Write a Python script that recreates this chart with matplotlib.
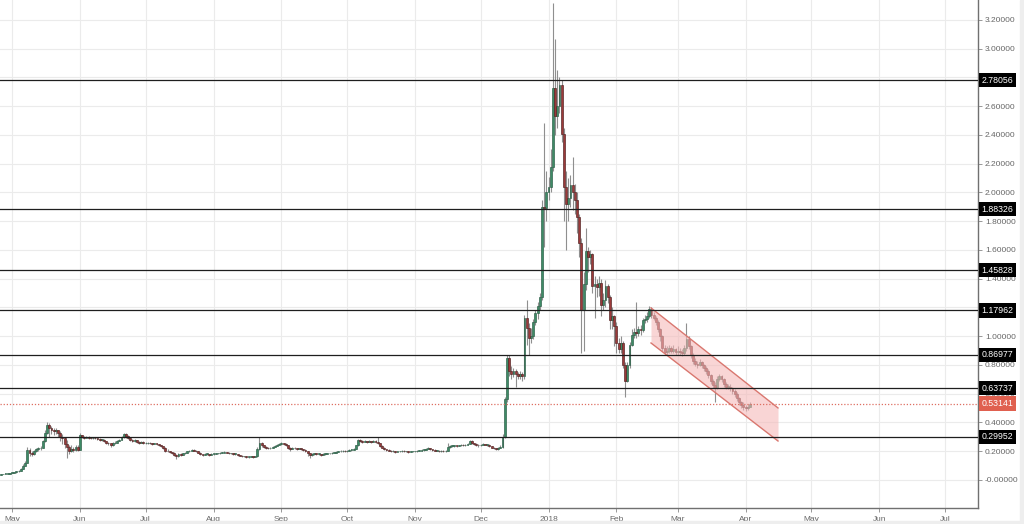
import numpy as np
import pandas as pd
import matplotlib
matplotlib.use('Agg')
import matplotlib.pyplot as plt
import matplotlib.dates as mdates
from matplotlib.transforms import blended_transform_factory
from matplotlib.patches import Rectangle

plt.rcParams['font.family'] = ['Liberation Sans', 'DejaVu Sans']

# ---------------- data (daily candles, open = previous close) ----------------
start_date = '2017-04-26'
first_open = 0.038

closes = [
    0.040, 0.042, 0.044, 0.045, 0.048,  # Apr 26-30 2017
    0.050, 0.052, 0.060, 0.062, 0.075, 0.100, 0.120, 0.210, 0.190, 0.180, 0.200, 0.215, 0.220, 0.225, 0.270, 0.330, 0.385, 0.360, 0.350, 0.340, 0.345, 0.330, 0.300, 0.290, 0.250, 0.230, 0.205, 0.215, 0.210, 0.230, 0.210,  # May
    0.310, 0.300, 0.295, 0.300, 0.295, 0.290, 0.295, 0.290, 0.285, 0.280, 0.280, 0.270, 0.260, 0.255, 0.240, 0.255, 0.260, 0.270, 0.280, 0.300, 0.320, 0.305, 0.295, 0.280, 0.270, 0.275, 0.265, 0.260, 0.265, 0.255,  # Jun
    0.255, 0.260, 0.255, 0.250, 0.255, 0.250, 0.240, 0.235, 0.225, 0.205, 0.200, 0.195, 0.190, 0.175, 0.165, 0.180, 0.175, 0.185, 0.190, 0.200, 0.205, 0.210, 0.205, 0.200, 0.190, 0.180, 0.175, 0.180, 0.180, 0.175, 0.180,  # Jul
    0.180, 0.185, 0.185, 0.190, 0.190, 0.195, 0.190, 0.185, 0.185, 0.180, 0.180, 0.175, 0.170, 0.165, 0.165, 0.160, 0.160, 0.165, 0.160, 0.165, 0.215, 0.255, 0.240, 0.230, 0.225, 0.220, 0.225, 0.230, 0.235, 0.245, 0.250,  # Aug
    0.255, 0.250, 0.240, 0.225, 0.215, 0.225, 0.220, 0.215, 0.220, 0.215, 0.210, 0.200, 0.185, 0.175, 0.180, 0.185, 0.180, 0.180, 0.175, 0.180, 0.180, 0.185, 0.185, 0.190, 0.190, 0.195, 0.200, 0.200, 0.205, 0.200,  # Sep
    0.205, 0.210, 0.210, 0.215, 0.240, 0.275, 0.270, 0.265, 0.270, 0.265, 0.270, 0.265, 0.270, 0.265, 0.255, 0.235, 0.225, 0.215, 0.210, 0.205, 0.200, 0.200, 0.195, 0.200, 0.200, 0.205, 0.200, 0.200, 0.195, 0.200, 0.200,  # Oct
    0.200, 0.205, 0.205, 0.210, 0.210, 0.215, 0.220, 0.215, 0.210, 0.205, 0.205, 0.200, 0.205, 0.200, 0.205, 0.230, 0.235, 0.235, 0.240, 0.235, 0.240, 0.245, 0.240, 0.245, 0.250, 0.270, 0.255, 0.250, 0.245, 0.240,  # Nov
    0.245, 0.250, 0.245, 0.245, 0.235, 0.225, 0.220, 0.215, 0.225, 0.230, 0.300, 0.560, 0.850, 0.760, 0.740, 0.755, 0.735, 0.725, 0.740, 0.720, 1.130, 1.060, 0.990, 1.000, 1.100, 1.160, 1.210, 1.270, 1.900, 1.890, 2.000,  # Dec
    2.040, 2.180, 2.730, 2.530, 2.600, 2.750, 2.410, 2.040, 1.920, 1.960, 2.050, 2.000, 1.950, 1.830, 1.650, 1.180, 1.360, 1.590, 1.550, 1.570, 1.350, 1.360, 1.340, 1.370, 1.220, 1.250, 1.350, 1.270, 1.110, 1.140, 1.070,  # Jan 2018
    0.950, 0.910, 0.950, 0.800, 0.690, 0.800, 0.940, 1.010, 1.030, 1.020, 1.050, 1.040, 1.110, 1.120, 1.140, 1.190, 1.150, 1.130, 1.100, 1.050, 1.000, 0.920, 0.890, 0.900, 0.920, 0.900, 0.910, 0.890,  # Feb
    0.900, 0.890, 0.880, 0.920, 0.980, 0.930, 0.870, 0.830, 0.810, 0.800, 0.820, 0.800, 0.780, 0.760, 0.730, 0.690, 0.660, 0.640, 0.700, 0.720, 0.700, 0.670, 0.650, 0.650, 0.640, 0.620, 0.600, 0.570, 0.540, 0.520, 0.510,  # Mar
    0.500, 0.510, 0.531,  # Apr 1-3
]

highs = [
    0.041, 0.043, 0.046, 0.047, 0.050,
    0.052, 0.055, 0.062, 0.066, 0.080, 0.110, 0.130, 0.230, 0.220, 0.200, 0.210, 0.225, 0.230, 0.235, 0.280, 0.345, 0.400, 0.395, 0.375, 0.360, 0.365, 0.350, 0.340, 0.320, 0.300, 0.275, 0.240, 0.240, 0.230, 0.240, 0.240,
    0.330, 0.315, 0.305, 0.305, 0.305, 0.300, 0.300, 0.298, 0.292, 0.290, 0.286, 0.283, 0.273, 0.265, 0.260, 0.262, 0.268, 0.275, 0.285, 0.305, 0.330, 0.325, 0.310, 0.300, 0.285, 0.282, 0.278, 0.270, 0.270, 0.268,
    0.262, 0.265, 0.263, 0.258, 0.260, 0.258, 0.252, 0.243, 0.238, 0.228, 0.212, 0.205, 0.198, 0.192, 0.178, 0.185, 0.185, 0.190, 0.195, 0.205, 0.210, 0.215, 0.212, 0.207, 0.202, 0.192, 0.183, 0.185, 0.185, 0.183, 0.185,
    0.185, 0.190, 0.190, 0.195, 0.195, 0.200, 0.198, 0.193, 0.190, 0.188, 0.185, 0.182, 0.177, 0.172, 0.170, 0.168, 0.165, 0.170, 0.168, 0.170, 0.230, 0.300, 0.262, 0.245, 0.235, 0.230, 0.232, 0.236, 0.240, 0.252, 0.260,
    0.262, 0.260, 0.255, 0.243, 0.228, 0.230, 0.228, 0.224, 0.225, 0.223, 0.218, 0.213, 0.203, 0.190, 0.186, 0.190, 0.188, 0.185, 0.182, 0.185, 0.185, 0.190, 0.190, 0.195, 0.195, 0.200, 0.205, 0.206, 0.210, 0.208,
    0.210, 0.215, 0.215, 0.220, 0.245, 0.285, 0.282, 0.275, 0.276, 0.274, 0.276, 0.273, 0.276, 0.275, 0.300, 0.258, 0.240, 0.228, 0.218, 0.213, 0.208, 0.206, 0.202, 0.205, 0.205, 0.210, 0.207, 0.205, 0.202, 0.205, 0.205,
    0.205, 0.210, 0.210, 0.215, 0.215, 0.222, 0.228, 0.225, 0.218, 0.212, 0.210, 0.207, 0.210, 0.207, 0.210, 0.260, 0.242, 0.240, 0.245, 0.242, 0.245, 0.250, 0.248, 0.250, 0.256, 0.278, 0.275, 0.260, 0.255, 0.250,
    0.250, 0.255, 0.252, 0.250, 0.247, 0.237, 0.228, 0.222, 0.230, 0.240, 0.320, 0.580, 0.870, 0.870, 0.790, 0.780, 0.770, 0.750, 0.760, 0.750, 1.150, 1.250, 1.090, 1.060, 1.120, 1.180, 1.240, 1.300, 1.950, 2.480, 2.150,
    2.110, 2.300, 3.320, 3.070, 2.850, 2.800, 2.780, 2.450, 2.150, 2.100, 2.120, 2.250, 2.060, 2.000, 1.850, 1.680, 1.450, 1.750, 1.620, 1.600, 1.580, 1.420, 1.400, 1.420, 1.400, 1.300, 1.390, 1.360, 1.290, 1.200, 1.150,
    1.100, 0.990, 1.000, 0.970, 0.820, 0.820, 0.960, 1.050, 1.060, 1.240, 1.070, 1.080, 1.130, 1.150, 1.170, 1.210, 1.200, 1.170, 1.140, 1.110, 1.060, 1.010, 0.940, 0.930, 0.940, 0.930, 0.940, 0.920,
    0.930, 0.920, 0.910, 0.940, 1.090, 1.000, 0.940, 0.880, 0.850, 0.830, 0.840, 0.830, 0.810, 0.790, 0.770, 0.740, 0.700, 0.680, 0.720, 0.740, 0.730, 0.710, 0.680, 0.670, 0.670, 0.650, 0.630, 0.610, 0.580, 0.550, 0.540,
    0.520, 0.530, 0.545,
]

lows = [
    0.037, 0.039, 0.041, 0.042, 0.044,
    0.048, 0.049, 0.051, 0.058, 0.060, 0.074, 0.095, 0.115, 0.170, 0.165, 0.175, 0.195, 0.205, 0.210, 0.220, 0.265, 0.320, 0.300, 0.320, 0.310, 0.320, 0.300, 0.270, 0.250, 0.220, 0.150, 0.180, 0.195, 0.195, 0.200, 0.200,
    0.210, 0.292, 0.288, 0.290, 0.288, 0.284, 0.285, 0.283, 0.278, 0.273, 0.272, 0.262, 0.252, 0.245, 0.232, 0.238, 0.250, 0.258, 0.268, 0.276, 0.295, 0.295, 0.285, 0.270, 0.262, 0.265, 0.258, 0.252, 0.255, 0.248,
    0.248, 0.252, 0.250, 0.245, 0.248, 0.244, 0.236, 0.230, 0.218, 0.198, 0.193, 0.188, 0.183, 0.168, 0.145, 0.160, 0.170, 0.172, 0.182, 0.188, 0.197, 0.202, 0.200, 0.195, 0.186, 0.176, 0.170, 0.173, 0.175, 0.170, 0.172,
    0.175, 0.178, 0.180, 0.183, 0.185, 0.188, 0.186, 0.180, 0.180, 0.175, 0.175, 0.170, 0.165, 0.160, 0.160, 0.155, 0.155, 0.158, 0.155, 0.158, 0.162, 0.210, 0.232, 0.222, 0.218, 0.212, 0.216, 0.222, 0.228, 0.233, 0.240,
    0.245, 0.244, 0.234, 0.218, 0.200, 0.212, 0.214, 0.210, 0.212, 0.209, 0.204, 0.194, 0.170, 0.155, 0.170, 0.176, 0.175, 0.174, 0.170, 0.172, 0.175, 0.178, 0.180, 0.183, 0.185, 0.188, 0.192, 0.195, 0.198, 0.195,
    0.196, 0.202, 0.205, 0.208, 0.213, 0.236, 0.262, 0.258, 0.262, 0.258, 0.262, 0.258, 0.262, 0.258, 0.250, 0.230, 0.220, 0.210, 0.205, 0.200, 0.195, 0.195, 0.190, 0.193, 0.195, 0.198, 0.195, 0.195, 0.190, 0.194, 0.195,
    0.195, 0.198, 0.200, 0.203, 0.205, 0.208, 0.212, 0.210, 0.205, 0.200, 0.200, 0.195, 0.198, 0.195, 0.198, 0.203, 0.225, 0.228, 0.232, 0.230, 0.233, 0.238, 0.235, 0.238, 0.243, 0.248, 0.250, 0.243, 0.238, 0.232,
    0.238, 0.242, 0.240, 0.238, 0.230, 0.220, 0.212, 0.208, 0.210, 0.222, 0.225, 0.290, 0.540, 0.720, 0.700, 0.715, 0.650, 0.700, 0.700, 0.690, 0.700, 0.940, 0.870, 0.950, 0.980, 1.080, 1.120, 1.180, 1.250, 1.620, 1.800,
    1.950, 2.000, 2.150, 2.400, 2.450, 2.550, 2.350, 1.800, 1.600, 1.800, 1.900, 1.880, 1.850, 1.720, 1.550, 0.880, 0.900, 1.320, 1.450, 1.500, 1.300, 1.130, 1.270, 1.280, 1.140, 1.180, 1.200, 1.230, 1.050, 1.050, 0.930,
    0.880, 0.880, 0.880, 0.780, 0.580, 0.680, 0.780, 0.930, 0.990, 0.990, 1.000, 1.010, 1.030, 1.090, 1.100, 1.130, 1.130, 1.110, 1.080, 1.030, 0.970, 0.900, 0.870, 0.870, 0.880, 0.880, 0.880, 0.870,
    0.870, 0.870, 0.860, 0.870, 0.900, 0.910, 0.850, 0.810, 0.790, 0.780, 0.790, 0.780, 0.760, 0.740, 0.710, 0.670, 0.640, 0.540, 0.630, 0.690, 0.680, 0.650, 0.630, 0.630, 0.620, 0.600, 0.580, 0.550, 0.520, 0.500, 0.490,
    0.480, 0.490, 0.505,
]

level_values = [2.78056, 1.88326, 1.45828, 1.17962, 0.86977, 0.63737, 0.29952]
last_price = 0.53141

channel_dates = ['2018-02-16 19:00', '2018-04-15 19:00']
channel_upper = [1.197, 0.501]
channel_lower = [0.953, 0.271]

# 2.8 and 1.2 are fully covered by the level boxes in the reference
y_ticks = [0.0, 0.2, 0.4, 0.6, 0.8, 1.0, 1.2, 1.4, 1.6, 1.8, 2.0, 2.2, 2.4, 2.6, 2.8, 3.0, 3.2]
y_tick_labels = ['-0.00000', '0.20000', '0.40000', '0.60000', '0.80000', '1.00000', '',
                 '1.40000', '1.60000', '1.80000', '2.00000', '2.20000', '2.40000', '2.60000',
                 '', '3.00000', '3.20000']
month_ticks = ['2017-05-01', '2017-06-01', '2017-07-01', '2017-08-01', '2017-09-01', '2017-10-01',
               '2017-11-01', '2017-12-01', '2018-01-01', '2018-02-01', '2018-03-01', '2018-04-01',
               '2018-05-01', '2018-06-01', '2018-07-01']
month_labels = ['May', 'Jun', 'Jul', 'Aug', 'Sep', 'Oct', 'Nov', 'Dec', '2018', 'Feb', 'Mar',
                'Apr', 'May', 'Jun', 'Jul']
x_range = ['2017-04-25 12:00', '2018-07-16 03:00']
y_range = (-0.195, 3.339)

# ---------------- figure ----------------
W, H = 1024, 524
fig = plt.figure(figsize=(W / 100, H / 100), dpi=100)
fig.patch.set_facecolor('white')
ax = fig.add_axes([0, 16 / H, 978 / W, 508 / H])
ax.set_facecolor('white')

dates = pd.date_range(start_date, periods=len(closes), freq='D')
xd = mdates.date2num(dates)
c = np.array(closes)
o = np.concatenate([[first_open], c[:-1]])
h = np.maximum(np.array(highs), np.maximum(o, c))
l = np.minimum(np.array(lows), np.minimum(o, c))
up = c >= o

# wicks
ax.vlines(xd, l, h, color='#8f8f8f', lw=0.8, zorder=2)
# bodies
bb = np.minimum(o, c)
bh = np.maximum(np.abs(c - o), 0.005)
ax.bar(xd[up], bh[up], bottom=bb[up], width=0.85, color='#3e8b66',
       edgecolor='#2a5c45', linewidth=0.45, zorder=3)
ax.bar(xd[~up], bh[~up], bottom=bb[~up], width=0.85, color='#9c3a3a',
       edgecolor='#4f2020', linewidth=0.45, zorder=3)

# channel
cx = mdates.date2num(pd.to_datetime(channel_dates))
ax.fill_between(cx, channel_lower, channel_upper, color='#f5b9b9', alpha=0.6, lw=0, zorder=4)
ax.plot(cx, channel_upper, color='#d9776f', lw=1.0, zorder=4.5)
ax.plot(cx, channel_lower, color='#d9776f', lw=1.0, zorder=4.5)

# horizontal levels
for v in level_values:
    ax.axhline(v, color='#1e1e1e', lw=0.9, zorder=5)
ax.axhline(last_price, color='#de6f62', lw=0.9, ls=(0, (1, 1.5)), zorder=5)

# axes limits and ticks
ax.set_xlim(mdates.date2num(pd.to_datetime(x_range[0])), mdates.date2num(pd.to_datetime(x_range[1])))
ax.set_ylim(*y_range)
ax.yaxis.tick_right()
ax.set_yticks(y_ticks)
ax.set_yticklabels(y_tick_labels)
ax.set_xticks(mdates.date2num(pd.to_datetime(month_ticks)))
ax.set_xticklabels(month_labels)
ax.tick_params(axis='y', direction='out', length=3, width=0.6, color='#888888',
               labelsize=6.0, labelcolor='#666666', pad=2)
ax.tick_params(axis='x', direction='out', length=3, width=0.6, color='#888888',
               labelsize=6.0, labelcolor='#666666', pad=2.5)
ax.grid(True, color='#ebebeb', lw=0.8)
ax.set_axisbelow(True)
for s in ['left', 'top']:
    ax.spines[s].set_visible(False)
for s in ['right', 'bottom']:
    ax.spines[s].set_color('#707070')
    ax.spines[s].set_linewidth(1.0)

# price label boxes
trans = blended_transform_factory(ax.transAxes, ax.transData)
for v in level_values:
    ax.text(1.0 + 3.5 / 978, v, f'{v:.5f}', transform=trans, ha='left', va='center',
            fontsize=6.3, color='white', zorder=10, clip_on=False,
            bbox=dict(boxstyle='square,pad=0.3', fc='black', ec='none'))
ax.text(1.0 + 3.5 / 978, last_price, f'{last_price:.5f}', transform=trans, ha='left',
        va='center', fontsize=6.3, color='white', zorder=10, clip_on=False,
        bbox=dict(boxstyle='square,pad=0.3', fc='#e0604f', ec='none'))

# light gray frame strips of the screenshot
fig.patches.append(Rectangle((1020 / W, 0), 4 / W, 1, transform=fig.transFigure,
                             color='#eeeeee', zorder=0))
fig.patches.append(Rectangle((0, 0), 1, 3 / H, transform=fig.transFigure,
                             color='#eeeeee', zorder=0))

fig.savefig('out.png', dpi=100)
